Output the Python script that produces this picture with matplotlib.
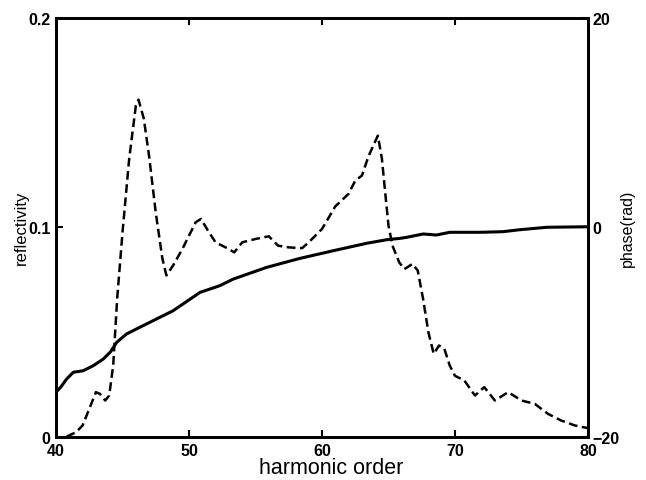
import matplotlib
matplotlib.use("Agg")
import matplotlib.pyplot as plt

plt.rcParams['font.family'] = ['Liberation Sans', 'DejaVu Sans']

# reflectivity (dashed, left axis)
refl_x = [40.8, 41.5, 42, 42.5, 43, 43.3, 43.7, 44, 44.3, 44.6, 45, 45.5, 46, 46.2,
          46.6, 47, 47.5, 48, 48.3, 48.8, 49.5, 50, 50.5, 50.9, 51.5, 52, 53, 53.4,
          54, 55, 56, 56.7, 57.5, 58.5, 59, 60, 61, 62, 62.5, 63, 63.5, 64.2, 64.5,
          64.8, 65, 65.3, 65.8, 66.2, 66.8, 67.2, 67.6, 68, 68.4, 68.8, 69.2, 69.6,
          70, 70.7, 71.5, 72.2, 73, 74, 75, 76, 77, 78, 79, 80]
refl_y = [0.0, 0.002, 0.0053, 0.0132, 0.0212, 0.0204, 0.0172, 0.0196, 0.034, 0.066,
          0.0976, 0.1326, 0.158, 0.161, 0.152, 0.134, 0.107, 0.085, 0.077, 0.0817,
          0.0896, 0.096, 0.1024, 0.104, 0.0976, 0.0928, 0.0896, 0.088, 0.0928, 0.0944,
          0.0957, 0.0912, 0.0904, 0.09, 0.0928, 0.0992, 0.110, 0.116, 0.1223, 0.1247,
          0.134, 0.1438, 0.133, 0.1135, 0.1008, 0.0912, 0.0833, 0.080, 0.0825, 0.0793,
          0.0658, 0.0498, 0.0395, 0.0435, 0.0419, 0.034, 0.029, 0.0268, 0.0196, 0.0236,
          0.0172, 0.0212, 0.0172, 0.0156, 0.0108, 0.0076, 0.0053, 0.004]

# phase (solid, right axis)
phase_x = [40.0, 40.4, 40.8, 41.3, 42.05, 42.8, 43.56, 44.1, 44.56, 45.3, 46.3, 47.5,
           48.8, 50.83, 52.3, 53.33, 55.84, 58.35, 60.85, 63.36, 64.86, 65.86, 66.37,
           67.6, 68.6, 69.6, 71.9, 73.6, 74.9, 76.9, 80.0]
phase_y = [-15.78, -15.2, -14.5, -13.86, -13.71, -13.23, -12.59, -11.9, -11.0, -10.2,
           -9.56, -8.8, -7.98, -6.22, -5.59, -4.95, -3.83, -2.97, -2.24, -1.53, -1.19,
           -1.06, -0.96, -0.64, -0.74, -0.48, -0.48, -0.42, -0.23, 0.0, 0.05]

fig = plt.figure(figsize=(6.46, 4.81), dpi=100)
ax = fig.add_axes([0.0867, 0.0904, 0.8235, 0.870])
ax2 = ax.twinx()

ax.plot(refl_x, refl_y, color='black', lw=1.8, linestyle=(0, (3.5, 1.8)))
ax2.plot(phase_x, phase_y, color='black', lw=2.2)

ax.set_xlim(40, 80)
ax.set_ylim(0, 0.2)
ax2.set_ylim(-20, 20)
ax.set_xticks([40, 50, 60, 70, 80])
ax.set_yticks([0, 0.1, 0.2])
ax.set_yticklabels(['0', '0.1', '0.2'])
ax2.set_yticks([-20, 0, 20])

ax.tick_params(direction='in', top=True, length=5, width=1.5, labelsize=11.5)
ax.tick_params(axis='x', pad=5)
ax.tick_params(axis='y', pad=4)
ax2.tick_params(direction='in', length=5, width=1.5, labelsize=11.5, pad=3.5)
for lab in ax.get_xticklabels() + ax.get_yticklabels() + ax2.get_yticklabels():
    lab.set_fontweight('bold')
for a in (ax, ax2):
    for s in a.spines.values():
        s.set_linewidth(2)

ax.set_xlabel('harmonic order', fontsize=15.5)
ax.xaxis.set_label_coords(0.517, -0.049)
ax.set_ylabel('reflectivity', fontsize=12)
ax.yaxis.set_label_coords(-0.051, 0.5)
ax2.set_ylabel('phase(rad)', fontsize=11.5)
ax2.yaxis.set_label_coords(1.060, 0.5)

fig.savefig('out.png', dpi=100)
